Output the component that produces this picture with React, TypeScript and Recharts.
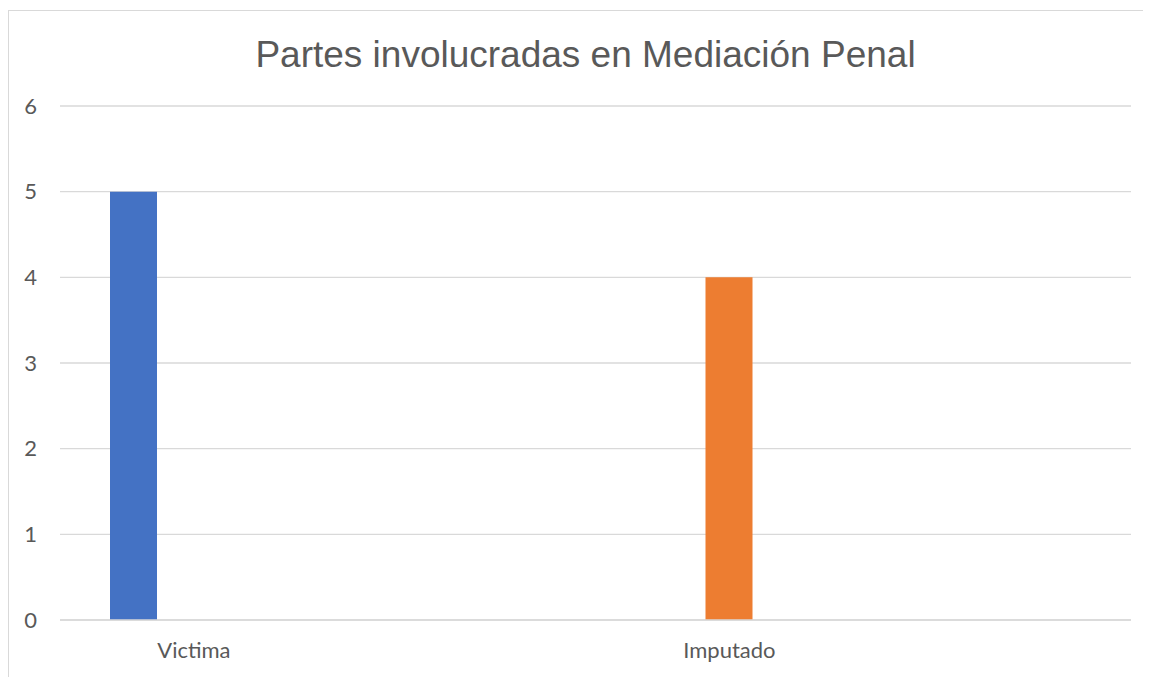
import React from "react";
import { BarChart, Bar, XAxis, YAxis, CartesianGrid } from "recharts";

const categories = ["Victima", "", "Imputado", ""];
const victimaValues = [5, null, null, null];
const imputadoValues = [null, null, 4, null];
const terceraValues = [null, null, null, null];
const yTicks = [0, 1, 2, 3, 4, 5, 6];
const title = "Partes involucradas en Mediación Penal";

const data = categories.map((c, i) => ({
  name: c,
  s1: victimaValues[i],
  s2: imputadoValues[i],
  s3: terceraValues[i],
}));

export default function App() {
  const tickStyle = { fill: "#595959", fontSize: 22, fontFamily: "Lato, 'Noto Sans', sans-serif" };
  return (
    <div style={{ position: "relative", width: 1143, height: 669, overflow: "hidden" }}>
      <div
        style={{
          position: "absolute",
          left: 0,
          top: 2,
          width: 1200,
          height: 700,
          borderLeft: "1px solid #d9d9d9",
          borderTop: "1px solid #d9d9d9",
        }}
      />
      <div
        style={{
          position: "absolute",
          left: 577.5,
          top: 28.3,
          transform: "translateX(-50%)",
          whiteSpace: "nowrap",
          fontFamily: "'Liberation Sans', Arial, sans-serif",
          fontSize: 37,
          lineHeight: "37px",
          color: "#595959",
        }}
      >
        {title}
      </div>
      <div style={{ position: "absolute", left: 0, top: 0 }}>
        <BarChart
          width={1143}
          height={669}
          data={data}
          margin={{ top: 98, right: 20, bottom: 17, left: 0 }}
          barSize={47}
          barGap={13}
        >
          <CartesianGrid vertical={false} stroke="#d9d9d9" strokeWidth={1.3} />
          <XAxis
            dataKey="name"
            interval={0}
            tickLine={false}
            axisLine={{ stroke: "#d9d9d9", strokeWidth: 1.3 }}
            tickSize={0}
            tickMargin={22}
            height={40}
            tick={tickStyle}
          />
          <YAxis
            domain={[0, 6]}
            ticks={yTicks}
            interval={0}
            width={52}
            tickLine={false}
            axisLine={false}
            tickSize={0}
            tickMargin={23}
            tick={tickStyle}
          />
          <Bar dataKey="s1" fill="#4472c4" isAnimationActive={false} />
          <Bar dataKey="s2" fill="#ed7d31" isAnimationActive={false} />
          <Bar dataKey="s3" fill="#a5a5a5" isAnimationActive={false} />
        </BarChart>
      </div>
    </div>
  );
}
